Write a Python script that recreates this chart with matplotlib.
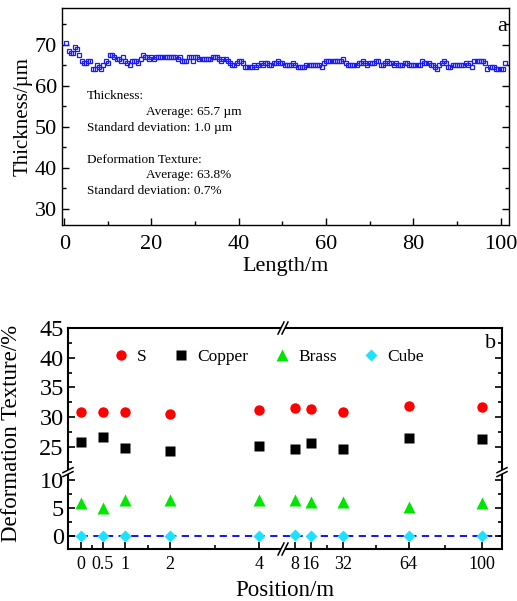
import numpy as np
import matplotlib
matplotlib.use('Agg')
import matplotlib.pyplot as plt
from matplotlib.ticker import MultipleLocator, FixedLocator

plt.rcParams['font.family'] = ['Liberation Serif', 'DejaVu Serif']
plt.rcParams['mathtext.default'] = 'regular'

# ---------------- panel a: thickness along the foil ----------------
# one reading every 0.5 m, from 0.5 m to 101 m
thickness = [
    70.5, 68.5, 68, 68, 69.5, 69, 67.5, 66, 65.5, 65.5, 66, 66, 64, 64, 65, 64.5, 64, 65, 66, 65.5,
    67.5, 67.5, 67, 66.5, 66.5, 66, 67, 66, 65.5, 65, 66, 66, 66, 65.5, 66.5, 67.5, 67, 67, 66.5, 67,
    66.5, 67, 67, 67, 67, 67, 67, 67, 67, 67, 67, 66.5, 67, 66, 66, 66, 67, 67, 66, 67,
    67, 66.5, 66.5, 66.5, 66.5, 66.5, 66.5, 67, 67, 67, 66.5, 66, 66.5, 66.5, 66, 65.5, 65, 65, 65.5, 66,
    66, 65.5, 64.5, 64.5, 64.5, 64.5, 65, 64.5, 65, 65.5, 65, 65.5, 65.5, 65, 65, 65.5, 65.5, 66, 65.5, 65.5,
    65, 65, 65, 65, 65.5, 65, 64.5, 64.5, 64.5, 64.5, 65, 65, 65, 65, 65, 65, 65, 64.5, 65.5, 66,
    66, 66, 66, 66, 66, 66, 66, 66.5, 65.5, 65, 65, 65, 65, 65, 65.5, 65.5, 66, 65.5, 65, 65.5,
    65.5, 65.5, 66, 66, 65, 65, 65.5, 66, 65.5, 65.5, 65, 65.5, 65, 65, 65, 65.5, 65.5, 65, 65, 65,
    65, 65, 65, 66, 65.5, 65.5, 65.5, 65, 65, 64.5, 64, 65, 65.5, 66, 65.5, 64.5, 64.5, 65, 65, 65,
    65, 65, 65, 65.5, 65, 65.5, 64.5, 66, 66, 66, 66, 66, 65.5, 64, 64.5, 64.5, 64.5, 64, 64, 64, 64, 65.5,
]
length = 0.5 * np.arange(1, len(thickness) + 1)

stats_lines = [
    (5.2, 57.4, "Thickness:"),
    (18.7, 53.5, "Average: 65.7 \u00b5m"),
    (5.2, 49.6, "Standard deviation: 1.0 \u00b5m"),
    (5.2, 41.8, "Deformation Texture:"),
    (18.7, 38.1, "Average: 63.8%"),
    (5.2, 34.2, "Standard deviation: 0.7%"),
]

# ---------------- panel b: texture components vs position ----------------
positions = [0, 0.5, 1, 2, 4, 8, 16, 32, 64, 100]
pos_labels = ['0', '0.5', '1', '2', '4', '8', '16', '32', '64', '100']
s_comp = [30.95, 30.85, 30.9, 30.6, 31.25, 31.6, 31.3, 30.95, 31.8, 31.7]
copper = [25.9, 26.6, 24.8, 24.3, 25.2, 24.65, 25.7, 24.65, 26.5, 26.4]
brass = [5.95, 5.1, 6.4, 6.4, 6.4, 6.4, 6.05, 6.1, 5.2, 5.9]
cube = [0.0, 0.0, 0.0, 0.0, 0.0, 0.2, 0.1, 0.1, 0.0, 0.0]


def piecewise(xp, fp):
    xp = np.asarray(xp, float)
    fp = np.asarray(fp, float)

    def f(v):
        v = np.asarray(v, float)
        out = np.interp(v, xp, fp)
        lo_slope = (fp[1] - fp[0]) / (xp[1] - xp[0])
        hi_slope = (fp[-1] - fp[-2]) / (xp[-1] - xp[-2])
        out = np.where(v < xp[0], fp[0] + (v - xp[0]) * lo_slope, out)
        out = np.where(v > xp[-1], fp[-1] + (v - xp[-1]) * hi_slope, out)
        return out
    return f


# broken axes: data break points -> pixel positions
x_brk = [-0.28, 4.53, 8, 110]
x_px = [0, 215, 226.7, 434]
y_brk = [-2.25, 11.4, 20.75, 45]
y_px = [0, 77, 77.01, 221.3]

fig = plt.figure(figsize=(5.17, 6.01), dpi=100)

# ---- a ----
ax1 = fig.add_axes([0.120, 0.6256, 0.865, 0.361])
ax1.plot(length, thickness, 's', ms=3.2, mfc='none', mec='#1a1aff', mew=0.9)
ax1.set_xlim(-0.5, 102)
ax1.set_ylim(26, 79)
ax1.xaxis.set_major_locator(MultipleLocator(20))
ax1.xaxis.set_minor_locator(MultipleLocator(10))
ax1.yaxis.set_major_locator(MultipleLocator(10))
ax1.yaxis.set_minor_locator(MultipleLocator(5))
ax1.tick_params(which='both', direction='in', right=True, top=False, width=1, labelsize=16)
ax1.tick_params(which='major', length=5)
ax1.tick_params(which='minor', length=3)
ax1.tick_params(axis='x', pad=7)
ax1.set_xlabel('Length/m', fontsize=16, labelpad=2)
ax1.set_ylabel('Thickness/\u00b5m', fontsize=15, labelpad=2)
for sp in ax1.spines.values():
    sp.set_linewidth(1.0)
for x, y, t in stats_lines:
    ax1.text(x, y, t, fontsize=9.5, va='center', ha='left')
ax1.text(0.984, 0.914, 'a', transform=ax1.transAxes, fontsize=16, ha='center', va='center')

# ---- b ----
ax2 = fig.add_axes([0.1315, 0.0865, 0.8395, 0.3677])
ax2.set_xscale('function', functions=(piecewise(x_brk, x_px), piecewise(x_px, x_brk)))
ax2.set_yscale('function', functions=(piecewise(y_brk, y_px), piecewise(y_px, y_brk)))
ax2.set_xlim(x_brk[0], x_brk[-1])
ax2.set_ylim(y_brk[0], y_brk[-1])

ax2.axhline(0, color='#0000ff', lw=1.3, ls=(0, (4, 3)), zorder=1)
ax2.plot(positions, s_comp, 'o', ms=7.5, color='#ff0000', mec='none', label='S', zorder=3)
ax2.plot(positions, copper, 's', ms=6.5, color='black', mec='none', label='Copper', zorder=3)
ax2.plot(positions, brass, '^', ms=8.5, color='#00e600', mec='none', label='Brass', zorder=3)
ax2.plot(positions, cube, 'D', ms=6.5, color='#1ee0ff', mec='none', label='Cube', zorder=3)

ax2.xaxis.set_major_locator(FixedLocator(positions))
ax2.set_xticklabels(pos_labels)
ax2.xaxis.set_minor_locator(FixedLocator([0.25, 1.5, 3, 24, 48, 82]))
ax2.yaxis.set_major_locator(FixedLocator([0, 5, 10, 25, 30, 35, 40, 45]))
ax2.set_yticklabels(['0', '5', '10', '25', '30', '35', '40', '45'])
ax2.yaxis.set_minor_locator(FixedLocator([2.5, 7.5, 22.5, 27.5, 32.5, 37.5, 42.5]))
ax2.tick_params(which='both', direction='in', right=True, top=False, width=1.2)
ax2.tick_params(which='major', length=5)
ax2.tick_params(which='minor', length=3)
ax2.tick_params(axis='x', labelsize=13, pad=5)
ax2.tick_params(axis='y', labelsize=17.5, pad=3)
for sp in ax2.spines.values():
    sp.set_linewidth(1.5)
ax2.set_xlabel('Position/m', fontsize=16.5, labelpad=5)
ax2.set_ylabel('Deformation Texture/%', fontsize=16.5)
ax2.yaxis.set_label_coords(-0.106, 0.525)
ax2.text(0.974, 0.931, 'b', transform=ax2.transAxes, fontsize=16, ha='center', va='center')

ax2.legend(loc='center left', bbox_to_anchor=(105 / 517, 1 - 357 / 601),
           bbox_transform=fig.transFigure, ncol=4, frameon=False, fontsize=12.5,
           handlelength=1.0, handletextpad=0.45, columnspacing=1.45, borderaxespad=0)

# break marks on the spines
W, H = 434.0, 221.3
xb = 215 / W
yb = 77 / H


def hmark(ax, xc, yc):
    # break on a horizontal spine
    g = 2.0 / W
    ax.plot([xc - g, xc + g], [yc, yc], color='white', lw=3, transform=ax.transAxes,
            clip_on=False, zorder=5, solid_capstyle='butt')
    for off in (-g, g):
        ax.plot([xc + off - 3 / W, xc + off + 3 / W], [yc - 6 / H, yc + 6 / H], color='black',
                lw=1.1, transform=ax.transAxes, clip_on=False, zorder=6)


def vmark(ax, xc, yc):
    # break on a vertical spine
    g = 2.0 / H
    ax.plot([xc, xc], [yc - g, yc + g], color='white', lw=3, transform=ax.transAxes,
            clip_on=False, zorder=5, solid_capstyle='butt')
    for off in (-g, g):
        ax.plot([xc - 5 / W, xc + 5 / W], [yc + off - 2.5 / H, yc + off + 2.5 / H], color='black',
                lw=1.1, transform=ax.transAxes, clip_on=False, zorder=6)


hmark(ax2, xb, 1.0)
hmark(ax2, xb, 0.0)
vmark(ax2, 0.0, yb)
vmark(ax2, 1.0, yb)

fig.savefig('out.png', dpi=100)
